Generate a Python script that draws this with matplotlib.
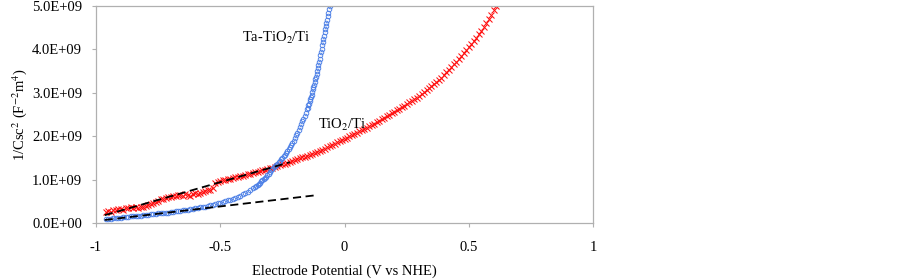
# Mott-Schottky plot, TiO2/Ti and Ta-TiO2/Ti electrodes

import numpy as np
import matplotlib
matplotlib.use("Agg")
import matplotlib.pyplot as plt
from matplotlib.ticker import FixedLocator, FuncFormatter

plt.rcParams['font.family'] = ['Liberation Serif', 'DejaVu Serif']
plt.rcParams['mathtext.fontset'] = 'stix'

# TiO2/Ti, potential sweep in 0.01 V steps, 1/Csc^2 in 1E+09
tio2_x = np.round(np.arange(-0.96, 0.615, 0.01), 3)
tio2_y = [0.25, 0.27, 0.26, 0.31, 0.29, 0.32, 0.33, 0.31, 0.35, 0.34,
          0.36, 0.35, 0.37, 0.34, 0.36, 0.37, 0.39, 0.41, 0.43, 0.45,
          0.48, 0.50, 0.55, 0.56, 0.58, 0.60, 0.61, 0.63, 0.62, 0.64,
          0.65, 0.63, 0.66, 0.64, 0.62, 0.66, 0.68, 0.67, 0.70, 0.71,
          0.73, 0.75, 0.77, 0.80, 0.93, 0.95, 0.96, 0.98, 0.99, 1.01,
          1.02, 1.03, 1.05, 1.06, 1.08, 1.09, 1.11, 1.12, 1.14, 1.15,
          1.17, 1.18, 1.20, 1.21, 1.23, 1.24, 1.26, 1.27, 1.29, 1.31,
          1.33, 1.35, 1.37, 1.39, 1.41, 1.43, 1.45, 1.47, 1.49, 1.51,
          1.53, 1.55, 1.57, 1.59, 1.61, 1.63, 1.66, 1.68, 1.71, 1.74,
          1.77, 1.80, 1.83, 1.86, 1.88, 1.91, 1.94, 1.97, 2.00, 2.02,
          2.05, 2.08, 2.11, 2.14, 2.17, 2.20, 2.23, 2.26, 2.29, 2.32,
          2.36, 2.39, 2.42, 2.46, 2.49, 2.53, 2.56, 2.60, 2.63, 2.67,
          2.70, 2.74, 2.78, 2.82, 2.85, 2.89, 2.93, 2.97, 3.02, 3.06,
          3.11, 3.15, 3.20, 3.25, 3.30, 3.35, 3.41, 3.47, 3.53, 3.59,
          3.66, 3.72, 3.78, 3.85, 3.91, 3.98, 4.05, 4.12, 4.19, 4.27,
          4.35, 4.43, 4.52, 4.61, 4.70, 4.80, 4.90, 5.00]

# Ta-TiO2/Ti, finer steps where the curve gets steep
ta_x = np.concatenate([np.round(np.arange(-0.96, -0.355, 0.01), 4),
                       np.round(np.arange(-0.355, -0.1475, 0.005), 4),
                       np.round(np.arange(-0.1475, -0.0599, 0.0025), 4)])
ta_y = [0.09, 0.09, 0.10, 0.11, 0.11, 0.12, 0.12, 0.13, 0.14, 0.14,
        0.15, 0.15, 0.16, 0.17, 0.17, 0.18, 0.18, 0.19, 0.20, 0.20,
        0.21, 0.22, 0.22, 0.23, 0.24, 0.24, 0.25, 0.26, 0.27, 0.27,
        0.28, 0.29, 0.30, 0.31, 0.32, 0.33, 0.34, 0.35, 0.36, 0.37,
        0.38, 0.39, 0.41, 0.42, 0.43, 0.45, 0.46, 0.48, 0.50, 0.52,
        0.54, 0.56, 0.58, 0.60, 0.63, 0.66, 0.69, 0.72, 0.76, 0.80,
        0.84,
        0.86, 0.88, 0.91, 0.93, 0.96, 0.99, 1.01, 1.04, 1.07, 1.10,
        1.13, 1.17, 1.21, 1.25, 1.28, 1.31, 1.34, 1.37, 1.40, 1.44,
        1.47, 1.50, 1.54, 1.57, 1.61, 1.66, 1.70, 1.75, 1.80, 1.85,
        1.90, 1.96, 2.02, 2.08, 2.14, 2.21, 2.27, 2.34, 2.40, 2.47,
        2.54, 2.62,
        2.66, 2.71, 2.75, 2.80, 2.85, 2.91, 2.96, 3.02, 3.08, 3.13,
        3.19, 3.25, 3.31, 3.37, 3.44, 3.50, 3.57, 3.64, 3.71, 3.78,
        3.86, 3.94, 4.02, 4.10, 4.17, 4.25, 4.32, 4.40, 4.47, 4.54,
        4.61, 4.68, 4.76, 4.84, 4.92, 5.00]

# linear fits (dashed)
fit_tio2_x = [-0.965, -0.22]
fit_tio2_y = [0.18, 1.40]
fit_ta_x = [-0.965, -0.107]
fit_ta_y = [0.07, 0.645]

xticks = [-1, -0.5, 0, 0.5, 1]
xticklabels = ["-1", "-0.5", "0", "0.5", "1"]
yticks = [0, 1e9, 2e9, 3e9, 4e9, 5e9]

scale = 1e9
fig = plt.figure(figsize=(9.02, 2.79), dpi=100)
ax = fig.add_axes([96 / 902, 1 - 223 / 279, 497 / 902, 217 / 279])

ax.plot(tio2_x[:len(tio2_y)], np.array(tio2_y) * scale, linestyle='none',
        marker='x', markersize=4.0, markeredgewidth=0.75, color='#ff1010')
ax.plot(ta_x[:len(ta_y)], np.array(ta_y) * scale, linestyle='none',
        marker='o', markersize=3.3, markeredgewidth=0.65,
        markerfacecolor='none', markeredgecolor='#4a7ee6')
ax.plot(fit_tio2_x, np.array(fit_tio2_y) * scale, color='black', lw=1.3,
        dashes=(4.5, 2.5))
ax.plot(fit_ta_x, np.array(fit_ta_y) * scale, color='black', lw=1.3,
        dashes=(4.5, 2.5))

ax.text(-0.412, 4.26e9, "Ta-TiO$_2$/Ti", fontsize=10.5, ha='left', va='center')
ax.text(-0.107, 2.26e9, "TiO$_2$/Ti", fontsize=10.5, ha='left', va='center')

ax.set_xlim(-1, 1)
ax.set_ylim(0, 5e9)
ax.xaxis.set_major_locator(FixedLocator(xticks))
ax.set_xticklabels(xticklabels)
ax.yaxis.set_major_locator(FixedLocator(yticks))
ax.yaxis.set_major_formatter(FuncFormatter(lambda v, p: f"{v:.1E}"))

for s in ax.spines.values():
    s.set_color('#b0b0b0')
    s.set_linewidth(0.9)
ax.tick_params(axis='x', direction='out', length=3, width=0.8, color='#b0b0b0',
               pad=10, labelsize=10.5)
ax.tick_params(axis='y', direction='out', length=3, width=0.8, color='#b0b0b0',
               pad=7, labelsize=10.5)

ax.set_xlabel("Electrode Potential (V vs NHE)", fontsize=10.5)
ax.xaxis.set_label_coords(0.5, -0.19)
ax.set_ylabel("1/Csc$^2$ (F$^{-2}$m$^4$)", fontsize=10.5)
ax.yaxis.set_label_coords(-0.135, 0.5)

plt.savefig("out.png", dpi=100)
